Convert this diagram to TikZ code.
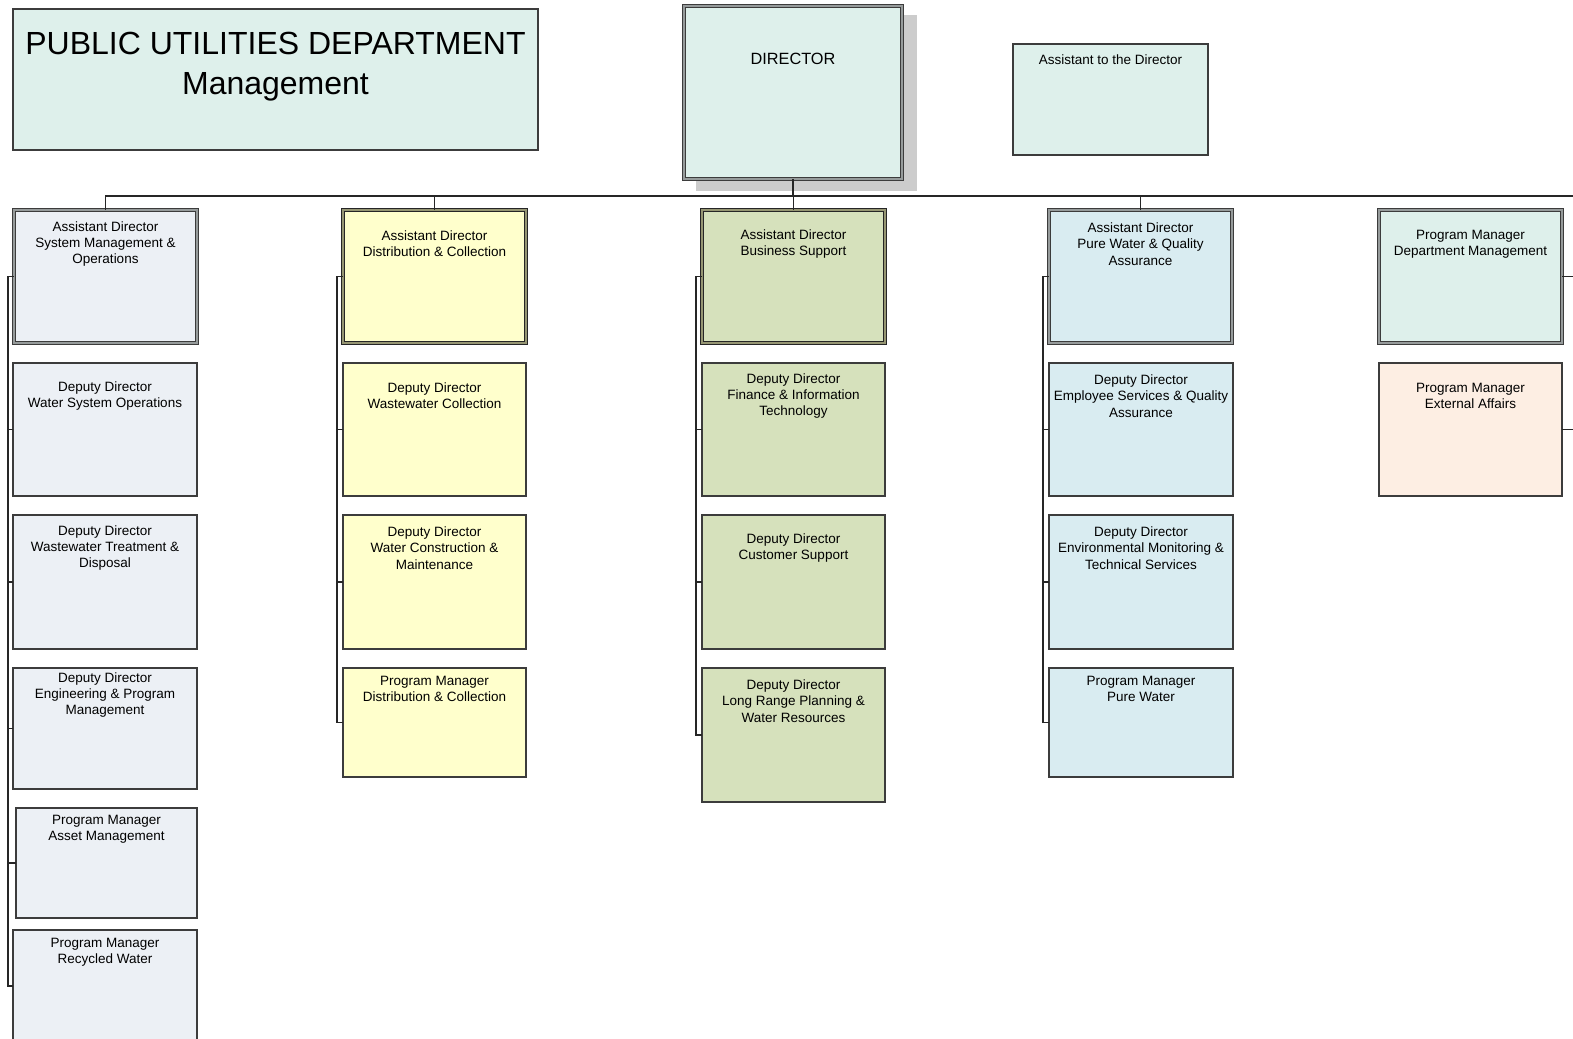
\documentclass[tikz,border=0pt]{standalone}
\usepackage{fontspec}
\setmainfont{Liberation Sans}
\usetikzlibrary{calc}

\definecolor{mint}{RGB}{222,240,235}
\definecolor{slate}{RGB}{236,240,245}
\definecolor{cream}{RGB}{255,255,204}
\definecolor{sage}{RGB}{214,225,188}
\definecolor{skyb}{RGB}{217,236,241}
\definecolor{peach}{RGB}{253,238,227}
\definecolor{edge}{RGB}{60,60,60}
\definecolor{shade}{RGB}{204,204,204}
\definecolor{midline}{RGB}{150,155,155}
\definecolor{oliveline}{RGB}{150,150,115}

\tikzset{
  box/.style={draw=edge, line width=1.1pt, inner sep=0pt, outer sep=0pt, anchor=north west},
  dbl/.style={box, line width=1.1pt, double=midline, double distance=1.4pt},
  txt/.style={align=center, inner sep=0pt, font=\fontsize{13.5}{16.3}\selectfont},
  wire/.style={draw=black!85, line width=1.2pt},
}

\begin{document}
\begin{tikzpicture}[x=1pt, y=-1pt]
\useasboundingbox (0,0) rectangle (1573,1038);

% ---- title and head office ----
\node[box, fill=mint, minimum width=525pt, minimum height=141pt] (title) at (13,9) {};
\node[align=center, inner sep=0pt, font=\fontsize{32}{40}\selectfont] (title-t)
  at ($(title.north)+(0,58)$) {PUBLIC UTILITIES DEPARTMENT\\Management};

\node[box, draw=none, fill=shade, minimum width=221pt, minimum height=176pt] (dirshadow) at (696,15) {};
\node[box, fill=mint, double=midline, line width=1.5pt, double distance=1.6pt,
      minimum width=218pt, minimum height=173pt] (dir) at (684,6) {};
\node[txt, font=\fontsize{16.3}{19}\selectfont] (dir-t) at ($(dir.north)+(0,53)$) {DIRECTOR};

\node[box, fill=mint, minimum width=195pt, minimum height=111pt] (asst) at (1013,44) {};
\node[txt] (asst-t) at ($(asst.north)+(0,16)$) {Assistant to the Director};

% ---- column 1 ----
\node[dbl, fill=slate, minimum width=183pt, minimum height=133pt] (c1a) at (14,210) {};
\node[txt] (c1a-t) at ($(c1a.north)+(0,34)$) {Assistant Director\\System Management \&\\Operations};
\node[box, fill=slate, minimum width=184pt, minimum height=133pt] (c1b) at (13,363) {};
\node[txt] (c1b-t) at ($(c1b.north)+(0,33)$) {Deputy Director\\Water System Operations};
\node[box, fill=slate, minimum width=184pt, minimum height=134pt] (c1c) at (13,515) {};
\node[txt] (c1c-t) at ($(c1c.north)+(0,33)$) {Deputy Director\\Wastewater Treatment \&\\Disposal};
\node[box, fill=slate, minimum width=184pt, minimum height=121pt] (c1d) at (13,668) {};
\node[txt] (c1d-t) at ($(c1d.north)+(0,27)$) {Deputy Director\\Engineering \& Program\\Management};
\node[box, fill=slate, minimum width=181pt, minimum height=110pt] (c1e) at (16,808) {};
\node[txt] (c1e-t) at ($(c1e.north)+(0,21)$) {Program Manager\\Asset Management};
\node[box, fill=slate, minimum width=184pt, minimum height=112pt] (c1f) at (13,930) {};
\node[txt] (c1f-t) at ($(c1f.north)+(0,22)$) {Program Manager\\Recycled Water};

% ---- column 2 ----
\node[dbl, draw=black!85, double=oliveline, fill=cream, minimum width=183pt, minimum height=133pt] (c2a) at (343,210) {};
\node[txt] (c2a-t) at ($(c2a.north)+(0,34)$) {Assistant Director\\Distribution \& Collection};
\node[box, fill=cream, minimum width=183pt, minimum height=133pt] (c2b) at (343,363) {};
\node[txt] (c2b-t) at ($(c2b.north)+(0,33)$) {Deputy Director\\Wastewater Collection};
\node[box, fill=cream, minimum width=183pt, minimum height=134pt] (c2c) at (343,515) {};
\node[txt] (c2c-t) at ($(c2c.north)+(0,33)$) {Deputy Director\\Water Construction \&\\Maintenance};
\node[box, fill=cream, minimum width=183pt, minimum height=109pt] (c2d) at (343,668) {};
\node[txt] (c2d-t) at ($(c2d.north)+(0,21)$) {Program Manager\\Distribution \& Collection};

% ---- column 3 ----
\node[dbl, draw=black!85, double=oliveline, fill=sage, minimum width=183pt, minimum height=133pt] (c3a) at (702,210) {};
\node[txt] (c3a-t) at ($(c3a.north)+(0,34)$) {Assistant Director\\Business Support};
\node[box, fill=sage, minimum width=183pt, minimum height=133pt] (c3b) at (702,363) {};
\node[txt] (c3b-t) at ($(c3b.north)+(0,33)$) {Deputy Director\\Finance \& Information\\Technology};
\node[box, fill=sage, minimum width=183pt, minimum height=134pt] (c3c) at (702,515) {};
\node[txt] (c3c-t) at ($(c3c.north)+(0,33)$) {Deputy Director\\Customer Support};
\node[box, fill=sage, minimum width=183pt, minimum height=134pt] (c3d) at (702,668) {};
\node[txt] (c3d-t) at ($(c3d.north)+(0,33)$) {Deputy Director\\Long Range Planning \&\\Water Resources};

% ---- column 4 ----
\node[dbl, fill=skyb, minimum width=183pt, minimum height=133pt] (c4a) at (1049,210) {};
\node[txt] (c4a-t) at ($(c4a.north)+(0,34)$) {Assistant Director\\Pure Water \& Quality\\Assurance};
\node[box, fill=skyb, minimum width=184pt, minimum height=133pt] (c4b) at (1049,363) {};
\node[txt] (c4b-t) at ($(c4b.north)+(0,33)$) {Deputy Director\\Employee Services \& Quality\\Assurance};
\node[box, fill=skyb, minimum width=184pt, minimum height=134pt] (c4c) at (1049,515) {};
\node[txt] (c4c-t) at ($(c4c.north)+(0,33)$) {Deputy Director\\Environmental Monitoring \&\\Technical Services};
\node[box, fill=skyb, minimum width=184pt, minimum height=109pt] (c4d) at (1049,668) {};
\node[txt] (c4d-t) at ($(c4d.north)+(0,21)$) {Program Manager\\Pure Water};

% ---- column 5 ----
\node[dbl, fill=mint, minimum width=183pt, minimum height=133pt] (c5a) at (1379,210) {};
\node[txt] (c5a-t) at ($(c5a.north)+(0,34)$) {Program Manager\\Department Management};
\node[box, fill=peach, minimum width=183pt, minimum height=133pt] (c5b) at (1379,363) {};
\node[txt] (c5b-t) at ($(c5b.north)+(0,33)$) {Program Manager\\External Affairs};

% ---- connectors ----
\coordinate (busL) at (105,196);
\coordinate (busR) at (1573,196);
\draw[wire] (busL) -- (busR);
\draw[wire] (dir.south) -- (dir.south |- busL);
\draw[wire] (c1a.north) -- (c1a.north |- busL);
\draw[wire] (c2a.north) -- (c2a.north |- busL);
\draw[wire] (c3a.north) -- (c3a.north |- busL);
\draw[wire] (c4a.north) -- (c4a.north |- busL);

% column spines
\coordinate (sp1) at (8,0);
\coordinate (sp2) at (337,0);
\coordinate (sp3) at (696,0);
\coordinate (sp4) at (1043,0);
\coordinate (sp5) at (1573,0);

\draw[wire] (c1a.west) -- (c1a.west -| sp1) -- (c1f.west -| sp1) -- (c1f.west);
\foreach \n in {c1b,c1c,c1d,c1e} \draw[wire] (\n.west) -- (\n.west -| sp1);

\draw[wire] (c2a.west) -- (c2a.west -| sp2) -- (c2d.west -| sp2) -- (c2d.west);
\foreach \n in {c2b,c2c} \draw[wire] (\n.west) -- (\n.west -| sp2);

\draw[wire] (c3a.west) -- (c3a.west -| sp3) -- (c3d.west -| sp3) -- (c3d.west);
\foreach \n in {c3b,c3c} \draw[wire] (\n.west) -- (\n.west -| sp3);

\draw[wire] (c4a.west) -- (c4a.west -| sp4) -- (c4d.west -| sp4) -- (c4d.west);
\foreach \n in {c4b,c4c} \draw[wire] (\n.west) -- (\n.west -| sp4);

\foreach \n in {c5a,c5b} \draw[wire] (\n.east) -- (\n.east -| sp5);
\end{tikzpicture}
\end{document}
